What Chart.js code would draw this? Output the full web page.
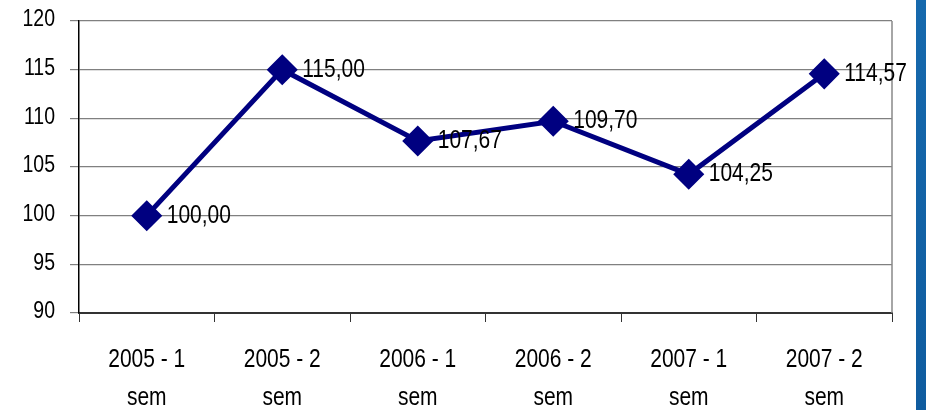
<!DOCTYPE html>
<html lang="pt">
<head>
    <meta charset="UTF-8">
    <title>Índice semestral</title>
    <script src="https://cdn.jsdelivr.net/npm/chart.js"></script>
    <style>
        body {
            margin: 0;
            background-color: white;
        }
        .wrap {
            position: relative;
            width: 926px;
            height: 410px;
        }
        .side-bar {
            position: absolute;
            left: 916px;
            top: 0;
            width: 10px;
            height: 410px;
            background: linear-gradient(to bottom, #1669ad, #0f5c9f);
        }
    </style>
</head>
<body>
    <div class="wrap">
        <canvas id="chart" width="926" height="410"></canvas>
        <div class="side-bar"></div>
    </div>

    <script>
        const categories = [
            ['2005 - 1', 'sem'], ['2005 - 2', 'sem'], ['2006 - 1', 'sem'],
            ['2006 - 2', 'sem'], ['2007 - 1', 'sem'], ['2007 - 2', 'sem']
        ];
        const values = [100.00, 115.00, 107.67, 109.70, 104.25, 114.57];
        const yTicks = [90, 95, 100, 105, 110, 115, 120];

        const fontFamily = "'Liberation Sans', Arial, sans-serif";
        const navy = '#000080';
        const stretch = 1.2;   // the source font is a bit taller than Arial

        // draw text with a small vertical stretch, baseline at y
        function tallText(ctx, text, x, y, size, align) {
            ctx.save();
            ctx.font = size + 'px ' + fontFamily;
            ctx.textAlign = align;
            ctx.textBaseline = 'alphabetic';
            ctx.translate(x, y);
            ctx.scale(1, stretch);
            ctx.fillText(text, 0, 0);
            ctx.restore();
        }

        // axis labels + value labels
        const textLayer = {
            id: 'textLayer',
            afterDatasetsDraw(chart) {
                const ctx = chart.ctx;
                const xs = chart.scales.x;
                const ys = chart.scales.y;
                const a = chart.chartArea;
                ctx.save();
                ctx.fillStyle = '#000';

                yTicks.forEach(v => {
                    const y = ys.getPixelForValue(v);
                    tallText(ctx, String(v), 55, y - 3 + 0.716 * 19.5 * stretch / 2, 19.5, 'right');
                });

                categories.forEach((lines, i) => {
                    const x = xs.getPixelForTick(i);
                    tallText(ctx, lines[0], x, a.bottom + 54, 21, 'center');
                    tallText(ctx, lines[1], x, a.bottom + 92, 21, 'center');
                });

                const meta = chart.getDatasetMeta(0);
                meta.data.forEach((pt, i) => {
                    const txt = values[i].toFixed(2).replace('.', ',');
                    tallText(ctx, txt, pt.x + 20, pt.y - 2 + 0.716 * 21 * stretch / 2, 21, 'left');
                });
                ctx.restore();
            }
        };

        // grey frame line on the right of the plot
        const rightBorder = {
            id: 'rightBorder',
            beforeDatasetsDraw(chart) {
                const a = chart.chartArea;
                const ctx = chart.ctx;
                ctx.save();
                ctx.strokeStyle = '#888';
                ctx.lineWidth = 1.5;
                ctx.beginPath();
                ctx.moveTo(a.right, a.top);
                ctx.lineTo(a.right, a.bottom);
                ctx.stroke();
                ctx.restore();
            }
        };

        new Chart(document.getElementById('chart'), {
            type: 'line',
            data: {
                labels: categories,
                datasets: [{
                    data: values,
                    borderColor: navy,
                    backgroundColor: navy,
                    borderWidth: 5,
                    tension: 0,
                    pointStyle: 'rectRot',
                    pointRadius: 12,
                    pointHoverRadius: 12,
                    pointBackgroundColor: navy,
                    pointBorderColor: navy
                }]
            },
            options: {
                responsive: false,
                animation: false,
                layout: { padding: { top: 21, right: 34, left: 0, bottom: 0 } },
                plugins: {
                    legend: { display: false },
                    tooltip: { enabled: false }
                },
                scales: {
                    x: {
                        offset: true,
                        afterFit: s => { s.height = 97; },
                        grid: {
                            offset: true,
                            drawOnChartArea: false,
                            drawTicks: true,
                            tickLength: 9,
                            color: '#333'
                        },
                        border: { color: '#333', width: 2 },
                        ticks: { display: false }
                    },
                    y: {
                        min: 90,
                        max: 120,
                        afterFit: s => { s.width = 79; },
                        afterBuildTicks: s => { s.ticks = yTicks.map(v => ({ value: v })); },
                        grid: {
                            color: '#808080',
                            lineWidth: 1.2,
                            tickLength: 9
                        },
                        border: { color: '#000', width: 1.5 },
                        ticks: { display: false }
                    }
                }
            },
            plugins: [textLayer, rightBorder]
        });
    </script>
</body>
</html>
